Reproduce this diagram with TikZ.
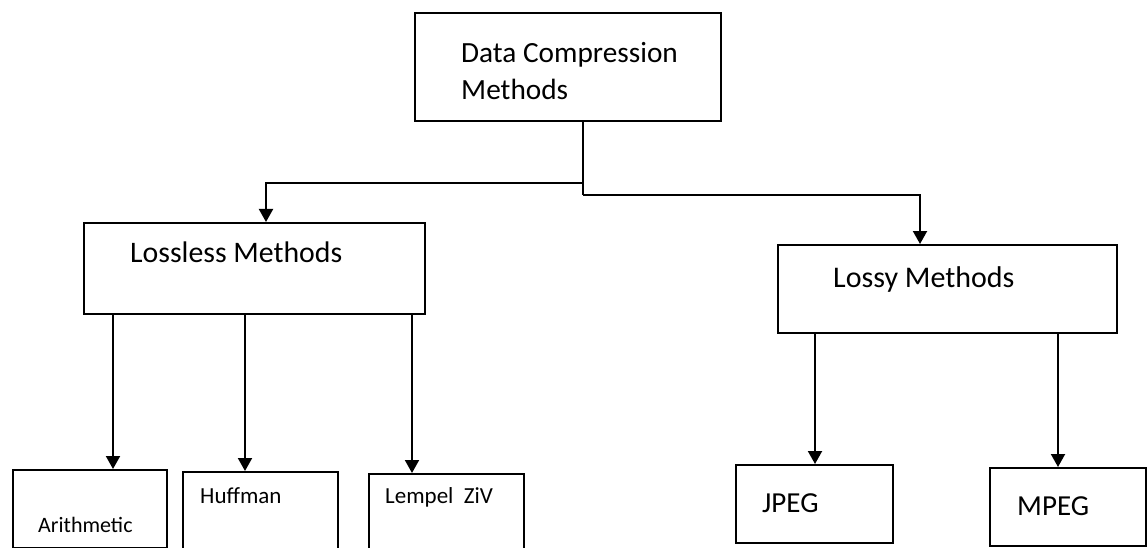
\documentclass[tikz,border=0pt]{standalone}
\usepackage{fontspec}
\setmainfont{Carlito}
\usetikzlibrary{arrows.meta}
\tikzset{
  box/.style={draw=black, line width=2pt, rectangle, anchor=north west, inner sep=0pt},
  lbl/.style={anchor=base west, inner sep=0pt, text=black},
  arr/.style={draw=black, line width=2pt, -{Triangle[width=14pt,length=13pt]}},
  ln/.style={draw=black, line width=2pt}
}
\begin{document}
\begin{tikzpicture}[x=1pt, y=-1pt]
\useasboundingbox (0,0) rectangle (1148,548);
\fill[white] (0,0) rectangle (1148,548);
\clip (0,0) rectangle (1148,548);

% boxes
\node[box, minimum width=306pt, minimum height=108pt] (top) at (414,12) {};
\node[box, minimum width=341pt, minimum height=91pt] (lossless) at (83,222) {};
\node[box, minimum width=339pt, minimum height=88pt] (lossy) at (777,244) {};
\node[box, minimum width=154pt, minimum height=78pt] (arith) at (12,469) {};
\node[box, minimum width=155pt, minimum height=90pt] (huff) at (182,471) {};
\node[box, minimum width=155pt, minimum height=90pt] (lz) at (368,473) {};
\node[box, minimum width=157pt, minimum height=78pt] (jpeg) at (735,464) {};
\node[box, minimum width=156pt, minimum height=78pt] (mpeg) at (989,467) {};

% labels
\node[lbl, font=\fontsize{29.3}{37}\selectfont] (t1) at (461,63) {Data Compression};
\node[lbl, font=\fontsize{29.3}{37}\selectfont] (t2) at (461,100) {Methods};
\node[lbl, font=\fontsize{29.8}{35}\selectfont] (t3) at (130,262) {Lossless Methods};
\node[lbl, font=\fontsize{30}{35}\selectfont] (t4) at (833,287) {Lossy Methods};
\node[lbl, font=\fontsize{22}{26}\selectfont] (t5) at (38,532) {Arithmetic};
\node[lbl, font=\fontsize{23}{27}\selectfont] (t6) at (200,503) {Huffman};
\node[lbl, font=\fontsize{23}{27}\selectfont] (t7) at (385,503) {Lempel\ \ ZiV};
\node[lbl, font=\fontsize{29}{34}\selectfont] (t8) at (762,512) {JPEG};
\node[lbl, font=\fontsize{29}{34}\selectfont] (t9) at (1017,515) {MPEG};

% junction coordinates
\coordinate (sx) at (583,0);
\coordinate (tl) at (266,183);
\coordinate (tr) at (920,195);
\coordinate (xa) at (113,0);
\coordinate (xh) at (245,0);
\coordinate (xl) at (412,0);
\coordinate (xj) at (815,0);
\coordinate (xm) at (1058,0);

% connectors
\draw[ln] (top.south -| sx) -- (sx |- tr);
\draw[arr] (sx |- tl) -- (tl) -- (lossless.north -| tl);
\draw[arr] (sx |- tr) -- (tr) -- (lossy.north -| tr);
\draw[arr] (lossless.south -| xa) -- (arith.north -| xa);
\draw[arr] (lossless.south -| xh) -- (huff.north -| xh);
\draw[arr] (lossless.south -| xl) -- (lz.north -| xl);
\draw[arr] (lossy.south -| xj) -- (jpeg.north -| xj);
\draw[arr] (lossy.south -| xm) -- (mpeg.north -| xm);
\end{tikzpicture}
\end{document}
